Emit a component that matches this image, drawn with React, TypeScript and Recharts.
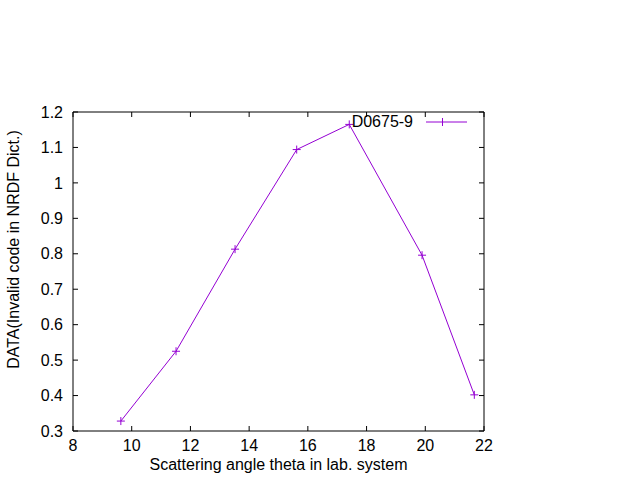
import React from 'react';
import { LineChart, Line, XAxis, YAxis, Legend, Label } from 'recharts';

const scatteringAngle = [9.63, 11.51, 13.52, 15.62, 17.41, 19.89, 21.67];
const dataValues = [0.328, 0.525, 0.813, 1.094, 1.165, 0.796, 0.402];
const xTicks = [8, 10, 12, 14, 16, 18, 20, 22];
const yTicks = [0.3, 0.4, 0.5, 0.6, 0.7, 0.8, 0.9, 1.0, 1.1, 1.2];
const seriesName = 'D0675-9';
const xTitle = 'Scattering angle theta in lab. system';
const yTitle = 'DATA(Invalid code in NRDF Dict.)';

const data = scatteringAngle.map((x, i) => ({ x, y: dataValues[i] }));

const COLOR = '#9400d3';
const FONT = '"Liberation Sans", Arial, sans-serif';
const FS = 16;
const TICK_LEN = 5;
const X_TICK_MARGIN = 9;
const Y_TICK_MARGIN = 10;

const fmtY = (v: number) => String(Number(Number(v).toFixed(1)));

const PlusDot = (props: any) => {
  const { cx, cy, index } = props;
  if (cx == null || cy == null) return null;
  return (
    <g key={`dot-${index}`}>
      <line x1={cx - 4} x2={cx + 4} y1={cy} y2={cy} stroke={COLOR} strokeWidth={1} />
      <line x1={cx} x2={cx} y1={cy - 4} y2={cy + 4} stroke={COLOR} strokeWidth={1} />
    </g>
  );
};

const BottomTick = (props: any) => {
  const { x, y, payload } = props;
  const axisY = y - X_TICK_MARGIN;
  return (
    <g>
      <line x1={x} x2={x} y1={axisY} y2={axisY - TICK_LEN} stroke="#000" strokeWidth={1} />
      <text x={x} y={y} dy="0.71em" textAnchor="middle" fontFamily={FONT} fontSize={FS} fill="#000">
        {payload.value}
      </text>
    </g>
  );
};

const LeftTick = (props: any) => {
  const { x, y, payload } = props;
  const axisX = x + Y_TICK_MARGIN;
  return (
    <g>
      <line x1={axisX} x2={axisX + TICK_LEN} y1={y} y2={y} stroke="#000" strokeWidth={1} />
      <text x={x} y={y} dy="0.355em" textAnchor="end" fontFamily={FONT} fontSize={FS} fill="#000">
        {fmtY(payload.value)}
      </text>
    </g>
  );
};

const TopTick = (props: any) => {
  const { x, y } = props;
  return <line x1={x} x2={x} y1={y} y2={y + TICK_LEN} stroke="#000" strokeWidth={1} />;
};

const RightTick = (props: any) => {
  const { x, y } = props;
  return <line x1={x} x2={x - TICK_LEN} y1={y} y2={y} stroke="#000" strokeWidth={1} />;
};

const LegendContent = () => (
  <div
    style={{
      display: 'flex',
      alignItems: 'center',
      justifyContent: 'flex-end',
      fontFamily: FONT,
      fontSize: FS,
      height: 20,
      color: '#000',
      whiteSpace: 'nowrap',
    }}
  >
    <span>{seriesName}</span>
    <svg width={41} height={10} style={{ marginLeft: 13 }}>
      <line x1={0} x2={41} y1={5} y2={5} stroke={COLOR} strokeWidth={1} />
      <line x1={16.5} x2={16.5} y1={1} y2={9} stroke={COLOR} strokeWidth={1} />
    </svg>
  </div>
);

const YTitle = (props: any) => {
  const vb = props.viewBox || { x: 0, y: 0, width: 0, height: 0 };
  const x = vb.x + 19;
  const y = vb.y + vb.height / 2 - 22;
  return (
    <text
      x={x}
      y={y}
      transform={`rotate(-90 ${x} ${y})`}
      textAnchor="middle"
      fontFamily={FONT}
      fontSize={FS}
      fill="#000"
    >
      {yTitle}
    </text>
  );
};

export default function App() {
  return (
    <div style={{ position: 'absolute', left: 0, top: 0, width: 640, height: 480, background: '#fff' }}>
      <LineChart
        width={640}
        height={480}
        data={data}
        margin={{ top: 111, right: 155, bottom: 0, left: 0 }}
      >
        <XAxis
          dataKey="x"
          type="number"
          domain={[8, 22]}
          ticks={xTicks}
          allowDataOverflow
          height={49}
          stroke="#000"
          tickLine={false}
          tickSize={0}
          tickMargin={X_TICK_MARGIN}
          tick={<BottomTick />}
          interval={0}
        >
          <Label
            value={xTitle}
            position="insideBottom"
            offset={10}
            style={{ fill: '#000', fontSize: FS, fontFamily: FONT }}
          />
        </XAxis>
        <XAxis
          xAxisId="top"
          orientation="top"
          dataKey="x"
          type="number"
          domain={[8, 22]}
          ticks={xTicks}
          allowDataOverflow
          height={1}
          stroke="#000"
          tickLine={false}
          tickSize={0}
          tickMargin={0}
          tick={<TopTick />}
          interval={0}
        />
        <YAxis
          type="number"
          domain={[0.3, 1.2]}
          ticks={yTicks}
          allowDataOverflow
          width={73}
          stroke="#000"
          tickLine={false}
          tickSize={0}
          tickMargin={Y_TICK_MARGIN}
          tick={<LeftTick />}
          interval={0}
        >
          <Label content={<YTitle />} />
        </YAxis>
        <YAxis
          yAxisId="right"
          orientation="right"
          type="number"
          domain={[0.3, 1.2]}
          ticks={yTicks}
          allowDataOverflow
          width={1}
          stroke="#000"
          tickLine={false}
          tickSize={0}
          tickMargin={0}
          tick={<RightTick />}
          interval={0}
        />
        <Legend
          layout="horizontal"
          verticalAlign="middle"
          align="center"
          wrapperStyle={{ position: 'absolute', top: 112, left: 300, width: 167, height: 20 }}
          content={<LegendContent />}
        />
        <Line
          dataKey="y"
          name={seriesName}
          stroke={COLOR}
          strokeWidth={1}
          dot={<PlusDot />}
          activeDot={false}
          isAnimationActive={false}
        />
      </LineChart>
    </div>
  );
}
